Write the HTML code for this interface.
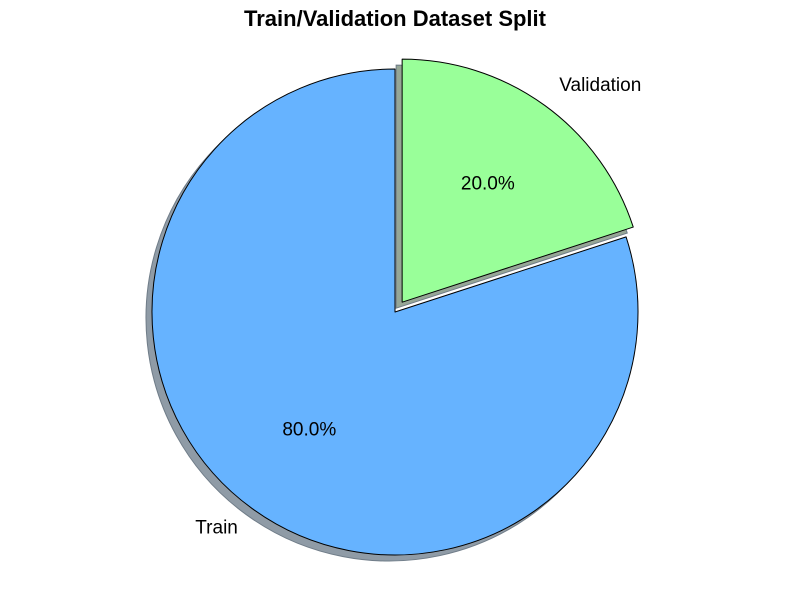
<!DOCTYPE html>
<html><head><meta charset="utf-8"><style>
html,body{margin:0;padding:0;background:#fff;}
svg{display:block;font-family:"Liberation Sans",sans-serif;}
</style></head><body>
<svg id="chart" width="790" height="590" viewBox="0 0 790 590">
<text x="395" y="26" text-anchor="middle" font-size="22" font-weight="bold">Train/Validation Dataset Split</text>
<g id="shadows"></g>
<g id="wedges"></g>
<g id="labels"></g>
</svg>
<script>
const categories = ["Train", "Validation"];
const values = [80, 20];
const explode = [0, 0.05];
const colors = ["#66b3ff", "#99ff99"];
const shadowColors = ["#8f9ba6", "#96a696"];

const cx = 395, cy = 312, R = 243, startAngle = 90;
const NS = "http://www.w3.org/2000/svg";
const total = values.reduce((a, b) => a + b, 0);
function pt(x, y, r, deg) {
  const a = deg * Math.PI / 180;
  return [x + r * Math.cos(a), y - r * Math.sin(a)];
}
function wedgePath(x, y, a0, a1) {
  const p0 = pt(x, y, R, a0), p1 = pt(x, y, R, a1);
  const large = (a1 - a0) > 180 ? 1 : 0;
  return `M${x},${y} L${p0[0]},${p0[1]} A${R},${R} 0 ${large} 0 ${p1[0]},${p1[1]} Z`;
}
const gS = document.getElementById("shadows"), gW = document.getElementById("wedges"), gL = document.getElementById("labels");
let a = startAngle;
values.forEach((v, i) => {
  const span = v / total * 360, mid = a + span / 2;
  const off = pt(0, 0, explode[i] * R, mid);
  const x = cx + off[0], y = cy + off[1];
  const sh = document.createElementNS(NS, "path");
  sh.setAttribute("d", wedgePath(x - 6, y + 6, a, a + span));
  sh.setAttribute("fill", shadowColors[i]);
  sh.setAttribute("stroke", "#6f7c88");
  sh.setAttribute("stroke-width", "1");
  
  
  gS.appendChild(sh);
  const w = document.createElementNS(NS, "path");
  w.setAttribute("d", wedgePath(x, y, a, a + span));
  w.setAttribute("fill", colors[i]);
  w.setAttribute("stroke", "#000");
  w.setAttribute("stroke-width", "1");
  w.setAttribute("stroke-linejoin", "round");
  
  
  gW.appendChild(w);
  const lp = pt(x, y, R * 1.1, mid);
  const t = document.createElementNS(NS, "text");
  t.setAttribute("x", lp[0]); t.setAttribute("y", lp[1] + 5);
  t.setAttribute("font-size", "19");
  t.setAttribute("text-anchor", lp[0] < cx ? "end" : "start");
  t.textContent = categories[i];
  
  
  gL.appendChild(t);
  const pp = pt(x, y, R * 0.6, mid);
  const p = document.createElementNS(NS, "text");
  p.setAttribute("x", pp[0]); p.setAttribute("y", pp[1] + 5.5);
  p.setAttribute("font-size", "19");
  p.setAttribute("text-anchor", "middle");
  p.textContent = (v / total * 100).toFixed(1) + "%";
  
  
  gL.appendChild(p);
  a += span;
});
</script>
</body></html>
